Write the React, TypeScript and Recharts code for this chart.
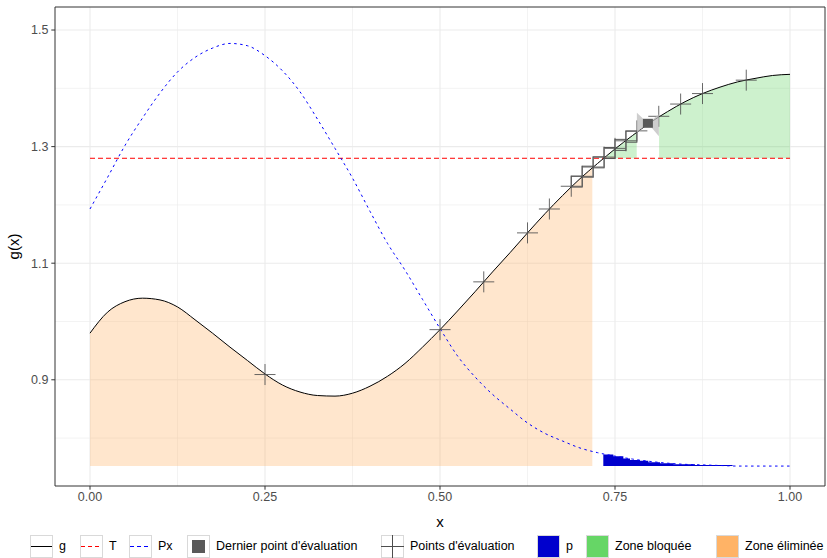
import React from 'react';
import {
  ComposedChart,
  Line,
  Area,
  Scatter,
  XAxis,
  YAxis,
  CartesianGrid,
  ReferenceArea,
  Label,
} from 'recharts';

// values
const X_GRID = [
  0, 0.025, 0.05, 0.075, 0.1, 0.125, 0.15, 0.175, 0.2, 0.225,
  0.25, 0.275, 0.3, 0.325, 0.35, 0.375, 0.4, 0.425, 0.45, 0.475,
  0.5, 0.525, 0.55, 0.575, 0.6, 0.625, 0.65, 0.675, 0.7, 0.725,
  0.75, 0.775, 0.8, 0.825, 0.85, 0.875, 0.9, 0.925, 0.95, 0.975, 1,
];
const G_VALUES = [
  0.98, 1.016, 1.034, 1.04, 1.037, 1.025, 1.003, 0.98, 0.956, 0.933,
  0.91, 0.891, 0.879, 0.873, 0.872, 0.877, 0.889, 0.906, 0.928, 0.956,
  0.986, 1.018, 1.051, 1.085, 1.118, 1.152, 1.185, 1.216, 1.245, 1.271,
  1.296, 1.319, 1.341, 1.36, 1.377, 1.391, 1.402, 1.411, 1.417, 1.422, 1.424,
];
const PX_VALUES = [
  1.193, 1.247, 1.302, 1.349, 1.392, 1.428, 1.453, 1.469, 1.477, 1.473,
  1.456, 1.43, 1.394, 1.347, 1.297, 1.246, 1.189, 1.134, 1.088, 1.038,
  0.988, 0.941, 0.905, 0.875, 0.85, 0.826, 0.808, 0.795, 0.783, 0.775,
  0.769, 0.764, 0.76, 0.757, 0.755, 0.754, 0.753, 0.752, 0.752, 0.752, 0.752,
];
const T_VALUE = 1.28;
const BASE_VALUE = 0.752;

// zone éliminée: from 0 up to this x, under g
const ELIM_RIGHT_X = 0.7176;
const ELIM_RIGHT_G = 1.264;

// zones bloquées: between T and g
const BLOQ1_X = [0.737, 0.75, 0.765, 0.781];
const BLOQ1_G = [1.282, 1.296, 1.309, 1.326];
const BLOQ2_X = [0.813, 0.825, 0.85, 0.875, 0.9, 0.925, 0.95, 0.975, 1];
const BLOQ2_G = [1.351, 1.36, 1.377, 1.391, 1.402, 1.411, 1.417, 1.422, 1.424];

// p (blue steps)
const P_X = [0.7333, 0.7476, 0.7619, 0.7714, 0.7857, 0.7976, 0.8143, 0.8333, 0.8643, 0.918];
const P_Y = [0.772, 0.769, 0.765, 0.7625, 0.761, 0.7585, 0.757, 0.755, 0.7537, 0.7537];

// points d'évaluation
const EVAL_X = [
  0.25, 0.5, 0.5625, 0.625, 0.65625, 0.6875, 0.703125, 0.71875,
  0.734375, 0.75, 0.765625, 0.78125, 0.8125, 0.84375, 0.875, 0.9375,
];
const EVAL_G = [
  0.909, 0.986, 1.068, 1.152, 1.193, 1.232, 1.249, 1.265,
  1.282, 1.297, 1.31, 1.327, 1.352, 1.373, 1.391, 1.414,
];
const SQUARE_X = [0.6953, 0.7109, 0.7266, 0.7422, 0.7578, 0.7734];
const SQUARE_G = [1.24, 1.257, 1.273, 1.289, 1.303, 1.317];
const LAST_X = [0.797];
const LAST_G = [1.34];

const X_TICKS = [0, 0.25, 0.5, 0.75, 1];
const X_MINOR = [0.125, 0.375, 0.625, 0.875];
const Y_TICKS = [0.9, 1.1, 1.3, 1.5];
const Y_MINOR = [0.8, 1.0, 1.2, 1.4];
const X_DOMAIN: [number, number] = [-0.05, 1.05];
const Y_DOMAIN: [number, number] = [0.7178, 1.5395];

const FONT = '"Liberation Sans", Arial, sans-serif';
const GREEN = '#66D666';
const ORANGE = '#FFB366';
const BLUE_P = '#0000CD';

const gData = X_GRID.map((x, i) => ({ x, y: G_VALUES[i] }));
const pxData = X_GRID.map((x, i) => ({ x, y: PX_VALUES[i] }));
const tData = [
  { x: 0, y: T_VALUE },
  { x: 1, y: T_VALUE },
];
const elimData = X_GRID.map((x, i) => ({ x, y: [BASE_VALUE, G_VALUES[i]] }))
  .filter((d) => d.x < ELIM_RIGHT_X)
  .concat([{ x: ELIM_RIGHT_X, y: [BASE_VALUE, ELIM_RIGHT_G] }]);
const bloq1Data = BLOQ1_X.map((x, i) => ({ x, y: [T_VALUE, BLOQ1_G[i]] }));
const bloq2Data = BLOQ2_X.map((x, i) => ({ x, y: [T_VALUE, BLOQ2_G[i]] }));
const pData = P_X.map((x, i) => ({ x, y: [BASE_VALUE, P_Y[i]] }));
const evalData = EVAL_X.map((x, i) => ({ x, y: EVAL_G[i] }));
const squareData = SQUARE_X.map((x, i) => ({ x, y: SQUARE_G[i] }));
const lastData = LAST_X.map((x, i) => ({ x, y: LAST_G[i] }));

const CrossShape = (props: any) => {
  const { cx, cy } = props;
  if (cx == null || cy == null) return null;
  const r = 10.5;
  return (
    <g stroke="#4D4D4D" strokeOpacity={0.85} strokeWidth={1}>
      <line x1={cx - r} y1={cy} x2={cx + r} y2={cy} />
      <line x1={cx} y1={cy - r} x2={cx} y2={cy + r} />
    </g>
  );
};

const SquareShape = (props: any) => {
  const { cx, cy } = props;
  if (cx == null || cy == null) return null;
  return (
    <rect x={cx - 5.5} y={cy - 5.5} width={11} height={11} fill="none" stroke="#555555" strokeWidth={1} />
  );
};

const LastShape = (props: any) => {
  const { cx, cy } = props;
  if (cx == null || cy == null) return null;
  return (
    <g>
      <polygon
        points={`${cx - 11},${cy - 10.5} ${cx},${cy} ${cx - 11},${cy + 9.5}`}
        fill="#BDBDBD"
        fillOpacity={0.75}
      />
      <polygon
        points={`${cx + 11},${cy - 9} ${cx},${cy} ${cx + 11},${cy + 13}`}
        fill="#BDBDBD"
        fillOpacity={0.75}
      />
      <rect x={cx - 5} y={cy - 4.5} width={10} height={9} fill="#595959" />
    </g>
  );
};

const YTitle = (props: any) => {
  const vb = props.viewBox || {};
  const cx = 13;
  const cy = vb.y + vb.height / 2;
  return (
    <text
      x={cx}
      y={cy}
      transform={`rotate(-90, ${cx}, ${cy})`}
      textAnchor="middle"
      dominantBaseline="central"
      fontFamily={FONT}
      fontSize={15}
      fill="#000"
    >
      g(x)
    </text>
  );
};

const XTitle = (props: any) => {
  const vb = props.viewBox || {};
  return (
    <text
      x={vb.x + vb.width / 2}
      y={521}
      textAnchor="middle"
      dominantBaseline="central"
      fontFamily={FONT}
      fontSize={15}
      fill="#000"
    >
      x
    </text>
  );
};

const LEGEND_LABELS = [
  'g',
  'T',
  'Px',
  "Dernier point d'évaluation",
  "Points d'évaluation",
  'p',
  'Zone bloquée',
  'Zone éliminée',
];
const LEGEND_KINDS = ['solid', 'dashRed', 'dashBlue', 'last', 'cross', 'fillBlue', 'fillGreen', 'fillOrange'];
const LEGEND_LEFT = [30, 80, 129, 187, 381, 537, 586, 716];

function LegendKey({ kind }: { kind: string }) {
  const s = 23;
  let inner: React.ReactNode = null;
  if (kind === 'solid') inner = <line x1={1} y1={11.5} x2={22} y2={11.5} stroke="#000" strokeWidth={1} />;
  if (kind === 'dashRed')
    inner = <line x1={1} y1={11.5} x2={22} y2={11.5} stroke="#FF0000" strokeWidth={1} strokeDasharray="4 3" />;
  if (kind === 'dashBlue')
    inner = <line x1={1} y1={11.5} x2={22} y2={11.5} stroke="#0000FF" strokeWidth={1} strokeDasharray="4 3" />;
  if (kind === 'last') inner = <rect x={5} y={5} width={13} height={13} fill="#595959" />;
  if (kind === 'cross')
    inner = (
      <g stroke="#4D4D4D" strokeWidth={1}>
        <line x1={0} y1={11.5} x2={23} y2={11.5} />
        <line x1={11.5} y1={0} x2={11.5} y2={23} />
      </g>
    );
  if (kind === 'fillBlue') inner = <rect x={1} y={1} width={21} height={21} fill={BLUE_P} />;
  if (kind === 'fillGreen') inner = <rect x={1} y={1} width={21} height={21} fill={GREEN} />;
  if (kind === 'fillOrange') inner = <rect x={1} y={1} width={21} height={21} fill={ORANGE} />;
  return (
    <svg width={s} height={s} style={{ display: 'block' }}>
      <rect x={0.5} y={0.5} width={s - 1} height={s - 1} fill="#FFFFFF" stroke="#D9D9D9" />
      {inner}
    </svg>
  );
}

function ChartLegend() {
  return (
    <div style={{ position: 'absolute', left: 0, top: 535, width: 827, height: 23 }}>
      {LEGEND_LABELS.map((label, i) => (
        <div key={label} style={{ position: 'absolute', left: LEGEND_LEFT[i], top: 0, display: 'flex', alignItems: 'center' }}>
          <LegendKey kind={LEGEND_KINDS[i]} />
          <span
            style={{
              marginLeft: 6,
              fontFamily: FONT,
              fontSize: 12.5,
              color: '#000',
              whiteSpace: 'nowrap',
              lineHeight: '23px',
            }}
          >
            {label}
          </span>
        </div>
      ))}
    </div>
  );
}

export default function App() {
  const tickStyle = { fill: '#4D4D4D', fontSize: 12.5, fontFamily: FONT };
  return (
    <div style={{ position: 'absolute', left: 0, top: 0, width: 827, height: 558, background: '#fff' }}>
      <ComposedChart width={827} height={558} margin={{ top: 7, right: 2, bottom: 32, left: 0 }}>
        <CartesianGrid
          horizontalValues={Y_MINOR}
          verticalValues={X_MINOR}
          stroke="#EBEBEB"
          strokeWidth={0.6}
        />
        <CartesianGrid
          horizontalValues={Y_TICKS}
          verticalValues={X_TICKS}
          stroke="#EBEBEB"
          strokeWidth={1.1}
        />
        <XAxis
          type="number"
          dataKey="x"
          domain={X_DOMAIN}
          allowDataOverflow
          ticks={X_TICKS}
          tickFormatter={(v: number) => v.toFixed(2)}
          height={40}
          tick={tickStyle}
          tickSize={3.7}
          tickMargin={2.9}
          tickLine={{ stroke: '#333333' }}
          axisLine={false}
        >
          <Label content={XTitle} />
        </XAxis>
        <YAxis
          type="number"
          dataKey="y"
          domain={Y_DOMAIN}
          allowDataOverflow
          ticks={Y_TICKS}
          tickFormatter={(v: number) => v.toFixed(1)}
          width={55}
          tick={tickStyle}
          tickSize={3.7}
          tickMargin={2.9}
          tickLine={{ stroke: '#333333' }}
          axisLine={false}
        >
          <Label content={YTitle} />
        </YAxis>

        <Area
          data={elimData}
          dataKey="y"
          type="monotone"
          stroke="none"
          fill={ORANGE}
          fillOpacity={0.33}
          isAnimationActive={false}
        />
        <Area
          data={bloq1Data}
          dataKey="y"
          type="monotone"
          stroke="none"
          fill={GREEN}
          fillOpacity={0.33}
          isAnimationActive={false}
        />
        <Area
          data={bloq2Data}
          dataKey="y"
          type="monotone"
          stroke="none"
          fill={GREEN}
          fillOpacity={0.33}
          isAnimationActive={false}
        />
        <Line
          data={tData}
          dataKey="y"
          type="linear"
          stroke="#FF0000"
          strokeWidth={1}
          strokeDasharray="5 3"
          dot={false}
          activeDot={false}
          isAnimationActive={false}
        />
        <Line
          data={pxData}
          dataKey="y"
          type="monotone"
          stroke="#0000FF"
          strokeWidth={1}
          strokeDasharray="2.5 3.5"
          dot={false}
          activeDot={false}
          isAnimationActive={false}
        />
        <Area
          data={pData}
          dataKey="y"
          type="stepAfter"
          stroke="none"
          fill={BLUE_P}
          fillOpacity={1}
          isAnimationActive={false}
        />
        <Line
          data={gData}
          dataKey="y"
          type="monotone"
          stroke="#000000"
          strokeWidth={1}
          dot={false}
          activeDot={false}
          isAnimationActive={false}
        />
        <Scatter data={evalData} shape={CrossShape} isAnimationActive={false} />
        <Scatter data={squareData} shape={SquareShape} isAnimationActive={false} />
        <Scatter data={lastData} shape={LastShape} isAnimationActive={false} />
        <ReferenceArea
          x1={X_DOMAIN[0]}
          x2={X_DOMAIN[1]}
          y1={Y_DOMAIN[0]}
          y2={Y_DOMAIN[1]}
          fill="none"
          fillOpacity={0}
          stroke="#333333"
          strokeWidth={1}
          ifOverflow="visible"
        />
      </ComposedChart>
      <ChartLegend />
    </div>
  );
}
